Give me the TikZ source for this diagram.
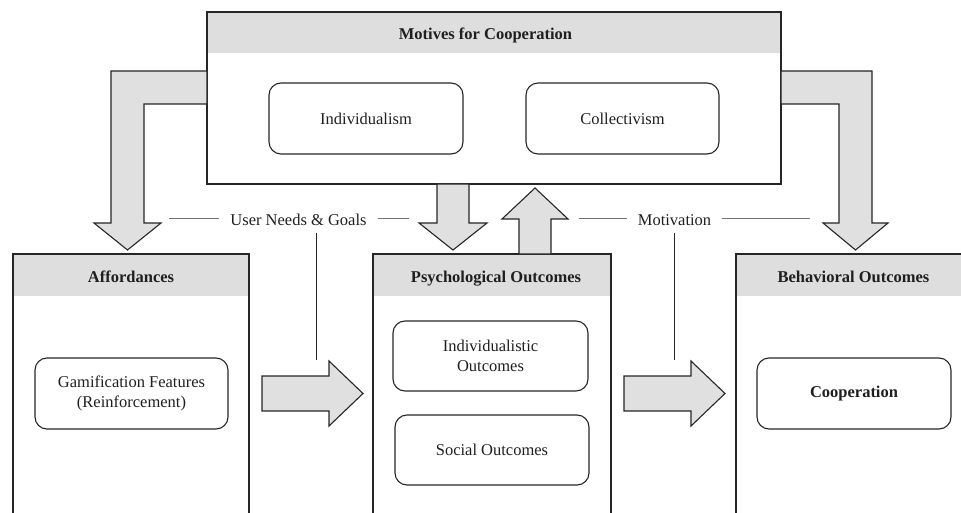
\documentclass[tikz,border=0pt]{standalone}
\usepackage{fontspec}
\setmainfont{Liberation Serif}
\begin{document}
\begin{tikzpicture}[x=1pt,y=-1pt,
  font=\fontsize{16.5}{20}\selectfont,
  ink/.style={text=black!88},
  edge/.style={draw=black!85, line width=1.1pt},
  hdrfill/.style={fill=black!13},
  frame/.style={inner sep=0pt, outer sep=0pt, anchor=north west},
  hdrtext/.style={ink, font=\fontsize{16.5}{20}\selectfont\bfseries, anchor=base, inner sep=0pt},
  inbox/.style={edge, rounded corners=12pt, inner sep=0pt, align=center, ink,
                minimum width=194pt, minimum height=71pt},
  blockarrow/.style={edge, fill=black!12, line join=miter},
  guide/.style={draw=black!55, line width=1pt},
  stem/.style={draw=black!85, line width=1pt},
  flowlabel/.style={ink, anchor=base, inner xsep=11pt, inner ysep=7.5pt, text depth=0pt}
]
\useasboundingbox (0,0) rectangle (961,513);
\clip (0,0) rectangle (961,513);

% ---------- top panel: motives ----------
\node[frame, minimum width=574pt, minimum height=172pt] (motives) at (207,12) {};
\fill[hdrfill] (motives.north west) rectangle ([yshift=-41pt]motives.north east);
\draw[edge] (motives.north west) rectangle (motives.south east);
\node[hdrtext] (motivesT) at (485.5,40) {Motives for Cooperation};
\node[inbox] (indiv) at (366,118.5) {Individualism};
\node[inbox, minimum width=193pt] (collect) at (622.5,118.5) {Collectivism};

% ---------- lower panels (open at the bottom) ----------
\node[frame, minimum width=236pt, minimum height=266pt] (afford) at (13,254) {};
\node[frame, minimum width=238pt, minimum height=266pt] (psych) at (373,254) {};
\node[frame, minimum width=240pt, minimum height=266pt] (behav) at (736,254) {};
\foreach \p in {afford,psych,behav}{
  \fill[hdrfill] (\p.north west) rectangle ([yshift=-42pt]\p.north east);
  \draw[edge] (\p.south west) -- (\p.north west) -- (\p.north east) -- (\p.south east);
}
\node[hdrtext] (affordT) at (131,282) {Affordances};
\node[hdrtext] (psychT) at (496,282) {Psychological Outcomes};
\node[hdrtext] (behavT) at (853.5,282) {Behavioral Outcomes};

\node[inbox, minimum width=193pt] (gamif) at (131.5,393.5) {Gamification Features\\(Reinforcement)};
\node[inbox, minimum width=195pt, minimum height=70pt] (indout) at (490.5,356) {Individualistic\\Outcomes};
\node[inbox, minimum width=194pt, minimum height=70pt] (socout) at (492,450) {Social Outcomes};
\node[inbox, font=\fontsize{16.5}{20}\selectfont\bfseries] (coop) at (854,393.5) {Cooperation};

% ---------- block arrows ----------
% motives -> affordances (bent)
\draw[blockarrow] (motives.west |- 0,71) -- (111,71) -- (111,223) -- (94,223)
  -- (127.5,250) -- (161,223) -- (144,223) -- (144,104) -- (motives.west |- 0,104) -- cycle;
% motives -> behavioral outcomes (bent)
\draw[blockarrow] (motives.east |- 0,71) -- (872,71) -- (872,223) -- (888,223)
  -- (855.5,250) -- (823,223) -- (839,223) -- (839,104) -- (motives.east |- 0,104) -- cycle;
% motives -> psychological outcomes
\draw[blockarrow] (437,0 |- motives.south) -- (437,223) -- (419,223) -- (453,250)
  -- (487,223) -- (469,223) -- (469,0 |- motives.south) -- cycle;
% psychological outcomes -> motives
\draw[blockarrow] (519,0 |- psych.north) -- (519,219) -- (502,219) -- (535,188)
  -- (568,219) -- (551,219) -- (551,0 |- psych.north) -- cycle;
% affordances -> psychological outcomes
\draw[blockarrow] (262,376) -- (329,376) -- (329,361) -- (363,393.5)
  -- (329,426) -- (329,411) -- (262,411) -- cycle;
% psychological outcomes -> behavioral outcomes
\draw[blockarrow] (624,376) -- (691,376) -- (691,361) -- (725,393.5)
  -- (691,426) -- (691,411) -- (624,411) -- cycle;

% ---------- flow labels ----------
\node[flowlabel] (needs) at (298.5,225.5) {User Needs \& Goals};
\node[flowlabel] (motiv) at (674.5,225.5) {Motivation};

\coordinate (needsL) at (169,219);
\coordinate (needsR) at (409,219);
\coordinate (motivL) at (579,219);
\coordinate (motivR) at (810,219);
\draw[guide] (needsL) -- (needsL -| needs.west);
\draw[guide] (needs.east |- needsR) -- (needsR);
\draw[guide] (motivL) -- (motivL -| motiv.west);
\draw[guide] (motiv.east |- motivR) -- (motivR);

\coordinate (needsEnd) at (316,360);
\coordinate (motivEnd) at (674,360);
\draw[stem] (needsEnd |- needs.south) -- (needsEnd);
\draw[stem] (motivEnd |- motiv.south) -- (motivEnd);
\end{tikzpicture}
\end{document}
